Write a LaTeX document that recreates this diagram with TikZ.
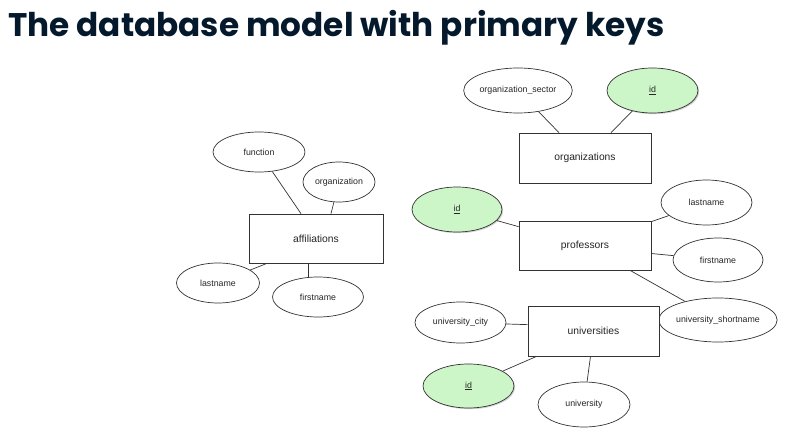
\documentclass[tikz,border=0pt]{standalone}
\usepackage{fontspec}
\setmainfont{Liberation Sans}
\newfontfamily\titlefont{Poppins}
\usetikzlibrary{shapes.geometric,shadows}
\definecolor{navy}{HTML}{05192D}
\definecolor{keygreen}{HTML}{CCF5C8}
\definecolor{edgegray}{HTML}{333333}
\tikzset{
  attr/.style={ellipse, draw=edgegray, line width=0.7pt, fill=white, inner sep=0pt,
    font=\fontsize{8.8}{10}\selectfont, text=black!85},
  keyattr/.style={attr, fill=keygreen, drop shadow={opacity=0.35, shadow xshift=1.2pt, shadow yshift=-1.2pt}},
  entity/.style={rectangle, draw=edgegray, line width=0.7pt, fill=white, inner sep=0pt,
    font=\fontsize{10.3}{12}\selectfont, text=black!85,
    drop shadow={opacity=0.25, shadow xshift=1pt, shadow yshift=-1pt}},
  conn/.style={draw=edgegray, line width=0.7pt},
}
\begin{document}
\begin{tikzpicture}[x=1pt,y=-1pt]
\useasboundingbox (0,0) rectangle (801,441);
\node[anchor=base west, inner sep=0pt, font=\titlefont\bfseries\fontsize{32.7}{38}\selectfont, text=navy] (title) at (8,37) {The database model with primary keys};

% affiliations
\node[entity, minimum width=134pt, minimum height=49pt] (aff) at (316,238.5) {affiliations};
\node[attr, minimum width=92pt, minimum height=40pt] (afffunc) at (259,152) {function};
\node[attr, minimum width=72pt, minimum height=40pt] (afforg) at (339,182) {organization};
\node[attr, minimum width=83pt, minimum height=40pt] (afflast) at (218,283) {lastname};
\node[attr, minimum width=91pt, minimum height=40pt] (afffirst) at (318,297) {firstname};
\draw[conn] (afffunc) -- ([xshift=-15pt]aff.north);
\draw[conn] (afforg) -- ([xshift=15pt]aff.north);
\draw[conn] (afflast) -- ([xshift=-49pt]aff.south);
\draw[conn] ([xshift=-10pt]afffirst.north) -- ([xshift=-8pt]aff.south);

% organizations
\node[entity, minimum width=132pt, minimum height=50pt] (org) at (585,158) {organizations};
\node[attr, minimum width=92pt, minimum height=45pt] (orgsector) at (518,90.5) {organization\_sector};
\node[keyattr, minimum width=91pt, minimum height=45pt] (orgid) at (652.5,90.5) {\underline{id}};
\draw[conn] (orgsector) -- ([xshift=-26pt]org.north);
\draw[conn] (orgid) -- ([xshift=26pt]org.north);

% professors
\node[entity, minimum width=132pt, minimum height=49pt] (prof) at (585,245.5) {professors};
\node[keyattr, minimum width=90pt, minimum height=45pt] (profid) at (457,209.5) {\underline{id}};
\node[attr, minimum width=91pt, minimum height=45pt] (proflast) at (706.5,202.5) {lastname};
\node[attr, minimum width=90pt, minimum height=44pt] (proffirst) at (718,260) {firstname};
\node[attr, minimum width=90pt, minimum height=44pt] (profshort) at (718,320) {university\_shortname};
\draw[conn] (profid) -- ([yshift=-6pt]prof.north west);
\draw[conn] (proflast) -- ([yshift=-1pt]prof.north east);
\draw[conn] (proffirst) -- ([yshift=-8pt]prof.east);
\draw[conn] (profshort) -- ([xshift=45pt]prof.south);

% universities
\node[entity, minimum width=131pt, minimum height=50pt] (uni) at (593.5,331) {universities};
\node[attr, minimum width=91pt, minimum height=41pt] (unicity) at (460.5,322.5) {university\_city};
\node[keyattr, minimum width=91pt, minimum height=44pt] (uniid) at (468.5,386) {\underline{id}};
\node[attr, minimum width=92pt, minimum height=45pt] (uniname) at (584,404.5) {university};
\draw[conn] (unicity) -- ([yshift=-19pt]uni.north west);
\draw[conn] (uniid) -- ([xshift=9pt]uni.south west);
\draw[conn] (uniname) -- ([xshift=-3pt]uni.south);
\end{tikzpicture}
\end{document}
